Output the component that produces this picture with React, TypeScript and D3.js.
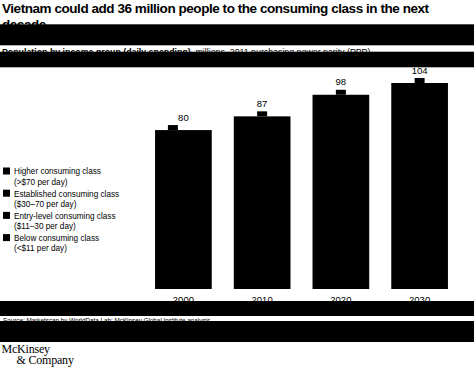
import React from 'react';
import * as d3 from 'd3';

const years = ['2000', '2010', '2020', '2030'];
const totals = [80, 87, 98, 104];
const legendItems = [
  ['Higher consuming class', '(>$70 per day)'],
  ['Established consuming class', '($30–70 per day)'],
  ['Entry-level consuming class', '($11–30 per day)'],
  ['Below consuming class', '(<$11 per day)'],
];
const titleLines = ['Vietnam could add 36 million people to the consuming class in the next', 'decade'];

const W = 474;
const H = 374;
const sans = '"Liberation Sans", Arial, sans-serif';
const serif = '"Liberation Serif", "Times New Roman", serif';

// black redaction strips as they appear in the picture: [top, bottom]
const strips = [[24.3, 45.3], [51.7, 67.3], [301, 316], [321, 342]];
// small marker on top of each bar, horizontal nudge from the label centre
const tabDx = [-10.5, 0, 0, 0];

const App = () => {
  const x = d3.scaleBand<string>().domain(years).range([133, 470]).padding(0.28);
  const y = d3.scaleLinear().domain([0, 104]).range([287, 83]);
  const bw = x.bandwidth();

  return (
    <div style={{ position: 'fixed', left: 0, top: 0, width: W, height: H, background: '#fff' }}>
      <svg width={W} height={H} style={{ display: 'block' }}>
        <rect width={W} height={H} fill="#fff" />

        {/* title */}
        <text fontFamily={sans} fontWeight="bold" fontSize={13.5} letterSpacing={-0.45} fill="#000">
          {titleLines.map((l, i) => (
            <tspan key={i} x={2} y={12.6 + i * 16}>{l}</tspan>
          ))}
        </text>

        {/* subtitle */}
        <text x={2} y={54.7} fontFamily={sans} fontSize={8.8} fill="#000">
          <tspan fontWeight="bold">Population by income group (daily spending)</tspan>
          <tspan>, millions, 2011 purchasing power parity (PPP)</tspan>
        </text>

        {/* bars */}
        {years.map((yr, i) => {
          const x0 = x(yr)!;
          const cx = x0 + bw / 2;
          const top = y(totals[i]);
          return (
            <g key={yr}>
              <rect x={x0} y={top} width={bw} height={y(0) + 2 - top} fill="#000" />
              <rect x={cx - 5 + tabDx[i]} y={top - 5} width={10} height={5} fill="#000" />
              <text x={cx} y={top - 9.5} textAnchor="middle" fontFamily={sans} fontSize={9.5} fill="#000">
                {totals[i]}
              </text>
              <text x={cx} y={302.5} textAnchor="middle" fontFamily={sans} fontSize={9.5} fill="#000">
                {yr}
              </text>
            </g>
          );
        })}

        {/* legend */}
        {legendItems.map((item, i) => {
          const y0 = 167.5 + i * 22.2;
          return (
            <g key={i}>
              <rect x={3} y={y0} width={7} height={7} fill="#000" />
              <text fontFamily={sans} fontSize={8.2} fill="#000">
                <tspan x={14} y={y0 + 6.8}>{item[0]}</tspan>
                <tspan x={14} y={y0 + 17.3}>{item[1]}</tspan>
              </text>
            </g>
          );
        })}

        {/* source */}
        <text x={3} y={322.8} fontFamily={sans} fontSize={6.3} fill="#000">
          Source: Marketscan by WorldData Lab; McKinsey Global Institute analysis
        </text>

        {strips.map(([a, b], i) => (
          <rect key={i} x={0} y={a} width={W} height={b - a} fill="#000" />
        ))}

        {/* logo */}
        <text fontFamily={serif} fontSize={12} fill="#000" letterSpacing={-0.2}>
          <tspan x={1.5} y={353}>McKinsey</tspan>
          <tspan x={16.5} y={364.3}>&amp; Company</tspan>
        </text>
      </svg>
    </div>
  );
};

export default App;
